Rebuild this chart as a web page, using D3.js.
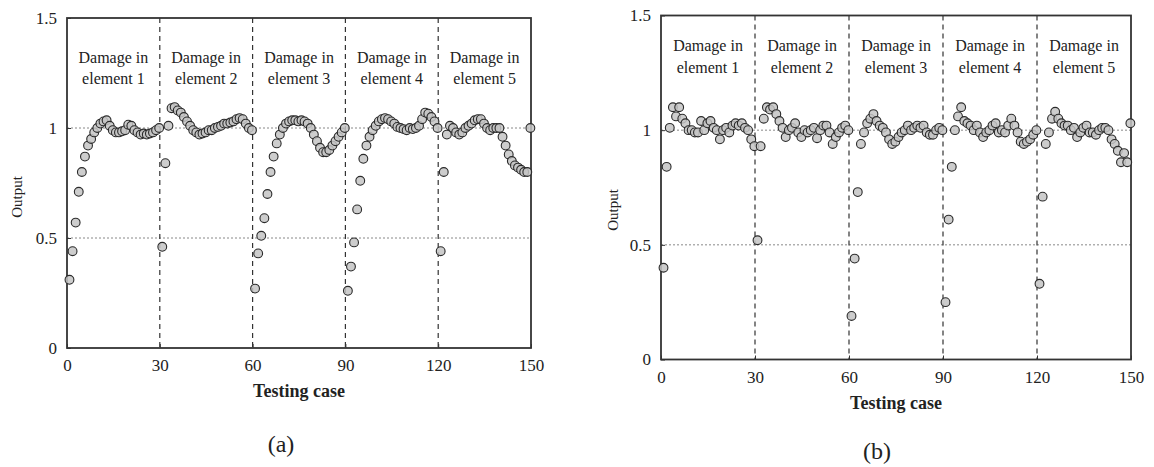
<!DOCTYPE html>
<html><head><meta charset="utf-8">
<script src="https://cdn.jsdelivr.net/npm/d3@7"></script>
<style>
body{margin:0;background:#fff}
svg{display:block}
text{font-family:"Liberation Serif","DejaVu Serif",serif;fill:#222}
</style>
</head><body><svg id="c" width="1154" height="467"></svg>
<script>
// ---- data ----
const cases = d3.range(1, 151);
const outputA = [
  0.31,0.44,0.57,0.71,0.80,0.87,0.92,0.95,0.98,1.00,
  1.02,1.03,1.035,1.01,0.99,0.98,0.98,0.985,0.99,1.015,
  1.01,0.99,0.98,0.97,0.975,0.97,0.975,0.98,0.99,1.00,
  0.46,0.84,1.01,1.09,1.095,1.08,1.07,1.05,1.03,1.01,
  0.99,0.98,0.97,0.975,0.98,0.99,0.99,1.00,1.005,1.01,
  1.02,1.02,1.025,1.03,1.04,1.045,1.04,1.02,1.00,0.99,
  0.27,0.43,0.51,0.59,0.70,0.80,0.87,0.93,0.97,1.00,
  1.02,1.03,1.035,1.035,1.03,1.035,1.03,1.02,1.00,0.97,
  0.94,0.91,0.89,0.89,0.90,0.92,0.94,0.96,0.98,1.00,
  0.26,0.37,0.48,0.63,0.76,0.86,0.92,0.96,0.99,1.01,
  1.03,1.04,1.045,1.04,1.03,1.02,1.005,1.00,0.995,0.99,
  1.00,0.995,1.00,1.01,1.04,1.07,1.065,1.05,1.03,1.00,
  0.44,0.80,0.97,1.01,1.00,0.98,0.97,0.98,1.00,1.01,
  1.02,1.035,1.04,1.04,1.02,1.00,0.99,1.00,1.00,1.00,
  0.96,0.92,0.88,0.85,0.83,0.82,0.81,0.80,0.80,1.00
];
const outputB = [
  0.40,0.84,1.01,1.10,1.06,1.10,1.05,1.03,1.00,1.00,
  0.99,0.99,1.04,1.00,1.03,1.04,1.01,1.00,0.96,1.00,
  1.01,0.99,1.02,1.03,1.02,1.03,1.01,1.00,0.96,0.93,
  0.52,0.93,1.05,1.10,1.09,1.10,1.07,1.04,1.01,0.97,
  1.00,1.01,1.03,0.99,0.97,1.00,0.99,1.00,1.01,0.965,
  1.00,1.02,1.02,0.99,0.94,0.97,0.99,1.01,1.02,1.00,
  0.19,0.44,0.73,0.94,0.99,1.03,1.05,1.07,1.04,1.02,
  1.01,0.99,0.96,0.94,0.95,0.97,0.99,1.00,1.02,1.00,
  1.01,1.02,1.01,1.02,0.99,0.98,0.98,1.00,1.01,1.00,
  0.25,0.61,0.84,1.00,1.06,1.10,1.04,1.03,1.02,1.00,
  1.02,0.99,0.97,0.99,1.00,1.02,1.03,0.99,1.00,0.99,
  1.02,1.05,1.02,0.99,0.95,0.94,0.95,0.96,0.98,1.00,
  0.33,0.71,0.94,0.99,1.05,1.08,1.05,1.03,1.02,1.02,
  1.00,1.01,0.97,0.99,1.01,1.02,0.99,0.99,0.98,1.00,
  1.01,1.01,1.00,0.96,0.94,0.91,0.86,0.90,0.86,1.03
];
const xTicks = [0, 30, 60, 90, 120, 150];
const yTicks = [0, 0.5, 1, 1.5];
const boundaries = [30, 60, 90, 120];
const refLines = [0.5, 1];
const regionTop = ["Damage in", "Damage in", "Damage in", "Damage in", "Damage in"];
const regionBottom = ["element 1", "element 2", "element 3", "element 4", "element 5"];
const regionCenters = [15, 45, 75, 105, 135];
const panelTags = ["(a)", "(b)"];

// ---- layout ----
const FONT = '"Liberation Serif","DejaVu Serif",serif';
const panels = [
  {values: outputA, tag: panelTags[0], L: 67, R: 531, T: 18, B: 348,
   annY: [57, 78], ylabX: 17, ylabY: 197, xlabY: 391, tagX: 281, tagY: 444},
  {values: outputB, tag: panelTags[1], L: 661, R: 1131, T: 15.5, B: 359.5,
   annY: [45, 67], ylabX: 613, ylabY: 210, xlabY: 403, tagX: 877, tagY: 451}
];

const svg = d3.select("#c");

panels.forEach(p => {
  const x = d3.scaleLinear().domain([0, 150]).range([p.L, p.R]);
  const y = d3.scaleLinear().domain([0, 1.5]).range([p.B, p.T]);
  const g = svg.append("g");

  g.selectAll(".ref").data(refLines).join("line")
    .attr("x1", p.L).attr("x2", p.R)
    .attr("y1", d => y(d)).attr("y2", d => y(d))
    .attr("stroke", "#888").attr("stroke-width", 1)
    .attr("stroke-dasharray", "2,2");

  g.selectAll(".div").data(boundaries).join("line")
    .attr("x1", d => x(d)).attr("x2", d => x(d))
    .attr("y1", p.T).attr("y2", p.B)
    .attr("stroke", "#333").attr("stroke-width", 1.2)
    .attr("stroke-dasharray", "5,4");

  const ax = g.append("g").attr("transform", `translate(0,${p.B})`)
    .call(d3.axisBottom(x).tickValues(xTicks).tickFormat(d3.format("d"))
      .tickSize(-4).tickPadding(11));
  const ay = g.append("g").attr("transform", `translate(${p.L},0)`)
    .call(d3.axisLeft(y).tickValues(yTicks).tickFormat(d => String(d))
      .tickSize(-4).tickPadding(10));
  [ax, ay].forEach(a => {
    a.attr("font-family", FONT);
    a.select(".domain").remove();
    a.selectAll("line").attr("stroke", "#333");
    a.selectAll("text").attr("font-size", 17).attr("font-family", FONT)
      .attr("fill", "#222");
  });

  g.append("rect").attr("x", p.L).attr("y", p.T)
    .attr("width", p.R - p.L).attr("height", p.B - p.T)
    .attr("fill", "none").attr("stroke", "#333").attr("stroke-width", 1.8);

  const ann = g.selectAll(".ann").data(regionCenters).join("text")
    .attr("text-anchor", "middle").attr("font-size", 16).attr("font-family", FONT)
    .attr("x", d => x(d));
  ann.append("tspan").attr("x", d => x(d)).attr("y", p.annY[0]).attr("dy", "0.35em")
    .text((d, i) => regionTop[i]);
  ann.append("tspan").attr("x", d => x(d)).attr("y", p.annY[1]).attr("dy", "0.35em")
    .text((d, i) => regionBottom[i]);

  g.selectAll(".pt").data(cases).join("circle")
    .attr("cx", d => x(d - 0.2))
    .attr("cy", (d, i) => y(p.values[i]))
    .attr("r", 4.4)
    .attr("fill", "#c4c4c4").attr("fill-opacity", 0.85)
    .attr("stroke", "#2a2a2a").attr("stroke-width", 1.1);

  g.append("text").attr("x", (p.L + p.R) / 2).attr("y", p.xlabY).attr("dy", "0.35em")
    .attr("text-anchor", "middle").attr("font-size", 18).attr("font-weight", "bold")
    .attr("font-family", FONT).text("Testing case");
  g.append("text").attr("transform", `translate(${p.ylabX},${p.ylabY}) rotate(-90)`)
    .attr("dy", "0.35em").attr("text-anchor", "middle").attr("font-size", 15)
    .attr("font-family", FONT).text("Output");

  g.append("text").attr("x", p.tagX).attr("y", p.tagY).attr("dy", "0.35em")
    .attr("text-anchor", "middle").attr("font-size", 24).attr("fill", "#000")
    .attr("font-family", FONT).text(p.tag);
});
</script>
</body></html>
